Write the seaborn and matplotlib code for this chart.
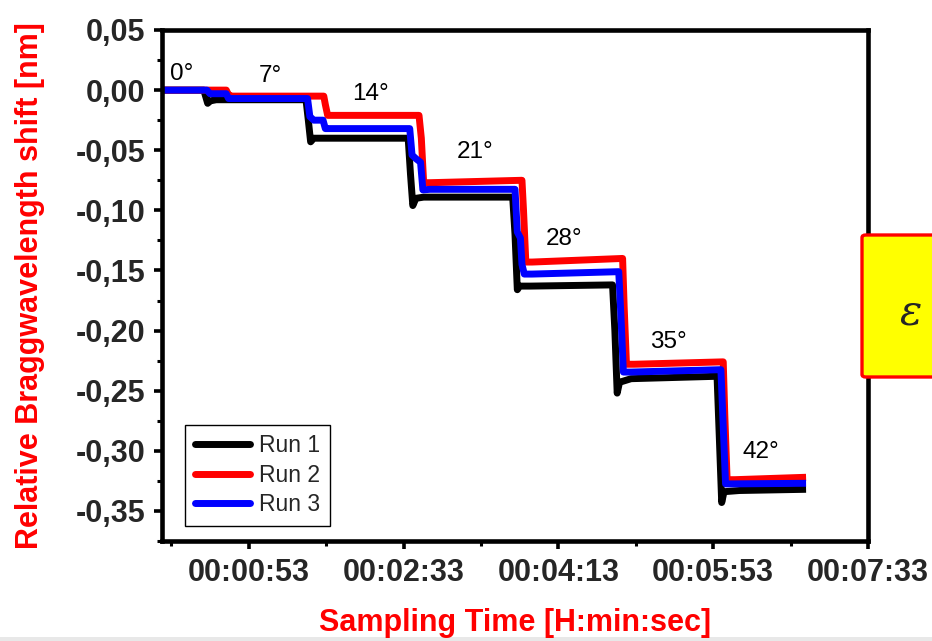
import numpy as np
import pandas as pd
import matplotlib
matplotlib.use("Agg")
import matplotlib.pyplot as plt
import seaborn as sns
from matplotlib.lines import Line2D
from matplotlib.patches import FancyBboxPatch, Rectangle
from matplotlib.ticker import FixedLocator, FuncFormatter

sns.set_style("ticks")
plt.rcParams['font.family'] = ['Liberation Sans', 'DejaVu Sans']

# =============================================================
# DATA: time [s] vs. Bragg shift [nm]
# =============================================================
run1_t = [-2, 24, 26.5, 28, 32, 90, 91.5, 93, 95, 100, 156, 157.5, 159, 161, 166,
          223.5, 225, 226.5, 228, 235, 288, 289.5, 291, 292.5, 300, 355.5, 357, 358.5, 360, 370, 413]
run1_v = [0.0, 0.0, -0.011, -0.009, -0.008, -0.008, -0.025, -0.043, -0.040, -0.040, -0.040, -0.07, -0.096, -0.090, -0.089,
          -0.089, -0.12, -0.166, -0.163, -0.163, -0.162, -0.20, -0.252, -0.243, -0.240, -0.238, -0.29, -0.343, -0.334, -0.333, -0.332]

run2_t = [-2, 38.5, 40, 42, 101.5, 102.5, 104, 108, 163, 164.5, 166, 170, 229.5, 230.5, 232, 236,
          294.5, 295.5, 297, 302, 359.5, 360.5, 362, 367, 413]
run2_v = [0.0, 0.0, -0.004, -0.005, -0.005, -0.012, -0.021, -0.021, -0.021, -0.040, -0.077, -0.077, -0.075, -0.100, -0.143, -0.143,
          -0.140, -0.180, -0.228, -0.228, -0.226, -0.270, -0.324, -0.324, -0.322]

run3_t = [-2, 26, 28, 38.5, 40, 42, 91, 92.5, 95, 101, 102.5, 105, 157, 158.5, 161, 164, 165.5, 170,
          225, 226.5, 228.5, 229.5, 231, 236, 292, 293.5, 295, 300, 358, 359.5, 361, 366, 413]
run3_v = [0.0, 0.0, -0.003, -0.003, -0.007, -0.007, -0.007, -0.022, -0.025, -0.025, -0.032, -0.032, -0.032, -0.054, -0.057, -0.060, -0.083, -0.0825,
          -0.0825, -0.118, -0.123, -0.145, -0.153, -0.153, -0.151, -0.190, -0.2345, -0.2345, -0.2325, -0.280, -0.3275, -0.3275, -0.327]

run_names = ["Run 1", "Run 2", "Run 3"]
run_colors = ["#000000", "#ff0000", "#0000ff"]

deg_labels = ["0°", "7°", "14°", "21°", "28°", "35°", "42°"]
deg_t = [10, 67, 131.5, 199, 257, 324, 384]
deg_v = [0.0135, 0.0115, -0.0035, -0.0515, -0.1235, -0.2096, -0.3013]

x_major = [53, 153, 253, 353, 453]
x_minor = [3, 103, 203, 303, 403]
y_major = [0.05, 0.0, -0.05, -0.10, -0.15, -0.20, -0.25, -0.30, -0.35]
y_minor = [0.025, -0.025, -0.075, -0.125, -0.175, -0.225, -0.275, -0.325, -0.375]

df = pd.concat([
    pd.DataFrame({"t": t, "shift": v, "run": name})
    for t, v, name in zip([run1_t, run2_t, run3_t], [run1_v, run2_v, run3_v], run_names)
], ignore_index=True)

# =============================================================
# FIGURE
# =============================================================
fig = plt.figure(figsize=(9.32, 6.41), dpi=100)
ax = fig.add_axes([162 / 932, 1 - 541 / 641, (868 - 162) / 932, (541 - 30) / 641])

sns.lineplot(data=df, x="t", y="shift", hue="run", palette=run_colors,
             estimator=None, sort=False, lw=5, legend=False, ax=ax,
             solid_joinstyle="round", solid_capstyle="butt")

for lab, t, v in zip(deg_labels, deg_t, deg_v):
    ax.text(t, v, lab, ha="center", va="center", fontsize=17.5, color="black")

ax.set_xlim(-3, 453)
ax.set_ylim(-0.375, 0.05)
ax.xaxis.set_major_locator(FixedLocator(x_major))
ax.xaxis.set_minor_locator(FixedLocator(x_minor))
ax.yaxis.set_major_locator(FixedLocator(y_major))
ax.yaxis.set_minor_locator(FixedLocator(y_minor))


def hms(s, pos=None):
    s = int(round(s))
    return f"{s // 3600:02d}:{(s % 3600) // 60:02d}:{s % 60:02d}"


def comma(v, pos=None):
    if abs(v) < 1e-9:
        v = 0.0
    return f"{v:.2f}".replace(".", ",")


ax.xaxis.set_major_formatter(FuncFormatter(hms))
ax.yaxis.set_major_formatter(FuncFormatter(comma))

for side in ["left", "right", "top", "bottom"]:
    ax.spines[side].set_linewidth(3.3)
    ax.spines[side].set_color("black")

ax.tick_params(axis="both", which="major", direction="out", length=6, width=2.6,
               labelsize=22, pad=6, color="black")
ax.tick_params(axis="both", which="minor", direction="out", length=3.5, width=2.2, color="black")
for lbl in ax.get_xticklabels() + ax.get_yticklabels():
    lbl.set_fontweight("bold")

ax.set_xlabel("Sampling Time [H:min:sec]", color="red", fontsize=22,
              fontweight="bold", labelpad=15)
ax.set_ylabel("Relative Braggwavelength shift [nm]", color="red", fontsize=22,
              fontweight="bold", labelpad=22)

handles = [Line2D([], [], color=c, lw=5) for c in run_colors]
leg = ax.legend(handles, run_names, loc="lower left", bbox_to_anchor=(0.033, 0.03),
                borderaxespad=0, fontsize=16.5, frameon=True, fancybox=False,
                framealpha=1, edgecolor="black", handlelength=2.4,
                handletextpad=0.4, labelspacing=0.28, borderpad=0.42)
leg.get_frame().set_linewidth(1.0)

# yellow strain box clipped at the right edge
box = FancyBboxPatch((862 / 932, 1 - 377 / 641), 0.2, (377 - 235) / 641,
                     boxstyle="round,pad=0,rounding_size=0.004",
                     transform=fig.transFigure, facecolor="#ffff00",
                     edgecolor="#ff0000", lw=2.4, zorder=10, clip_on=False)
fig.add_artist(box)
fig.text(911 / 932, 1 - 312 / 641, "ε", fontsize=30, fontstyle="italic",
         family=["DejaVu Serif"], ha="center", va="center", zorder=11)

# faint grey strip along the bottom edge
fig.add_artist(Rectangle((0, 0), 1, 4 / 641, transform=fig.transFigure,
                         facecolor="#e8e8e8", edgecolor="none", zorder=-1))

fig.savefig("out.png", dpi=100)
